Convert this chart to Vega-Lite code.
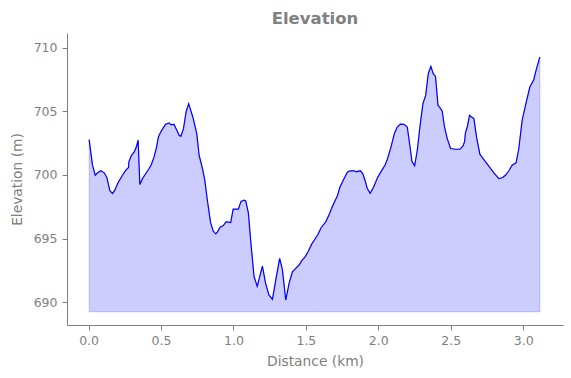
{
  "$schema": "https://vega.github.io/schema/vega-lite/v6.json",
  "autosize": "none",
  "width": 496,
  "height": 292,
  "padding": {"left": 67, "top": 33, "right": 9, "bottom": 53},
  "background": "white",
  "title": {"text": "Elevation", "font": "DejaVu Sans", "fontSize": 16.5, "fontWeight": "bold", "color": "gray", "anchor": "middle", "offset": 6},
  "config": {
    "view": {"stroke": null},
    "axis": {
      "grid": false,
      "domainColor": "gray",
      "tickColor": "gray",
      "labelColor": "gray",
      "titleColor": "gray",
      "labelFont": "DejaVu Sans",
      "titleFont": "DejaVu Sans",
      "labelFontSize": 12.5,
      "titleFontSize": 13.8,
      "titleFontWeight": "normal",
      "tickSize": 5,
      "domainWidth": 1,
      "tickWidth": 1
    }
  },
  "data": {"values": [
    {"d": 0.004, "e": 702.78},
    {"d": 0.027, "e": 700.77},
    {"d": 0.046, "e": 699.98},
    {"d": 0.062, "e": 700.17},
    {"d": 0.085, "e": 700.33},
    {"d": 0.108, "e": 700.17},
    {"d": 0.126, "e": 699.8},
    {"d": 0.147, "e": 698.76},
    {"d": 0.165, "e": 698.55},
    {"d": 0.181, "e": 698.81},
    {"d": 0.204, "e": 699.41},
    {"d": 0.234, "e": 699.98},
    {"d": 0.257, "e": 700.38},
    {"d": 0.276, "e": 700.59},
    {"d": 0.278, "e": 701.03},
    {"d": 0.296, "e": 701.55},
    {"d": 0.315, "e": 701.81},
    {"d": 0.328, "e": 702.15},
    {"d": 0.342, "e": 702.73},
    {"d": 0.354, "e": 699.25},
    {"d": 0.372, "e": 699.72},
    {"d": 0.395, "e": 700.12},
    {"d": 0.418, "e": 700.51},
    {"d": 0.434, "e": 700.85},
    {"d": 0.452, "e": 701.42},
    {"d": 0.468, "e": 702.13},
    {"d": 0.482, "e": 702.99},
    {"d": 0.498, "e": 703.38},
    {"d": 0.516, "e": 703.72},
    {"d": 0.532, "e": 703.98},
    {"d": 0.556, "e": 704.09},
    {"d": 0.567, "e": 703.96},
    {"d": 0.590, "e": 703.98},
    {"d": 0.609, "e": 703.51},
    {"d": 0.625, "e": 703.12},
    {"d": 0.637, "e": 703.04},
    {"d": 0.655, "e": 703.64},
    {"d": 0.673, "e": 704.95},
    {"d": 0.691, "e": 705.6},
    {"d": 0.721, "e": 704.5},
    {"d": 0.747, "e": 703.25},
    {"d": 0.763, "e": 701.55},
    {"d": 0.786, "e": 700.51},
    {"d": 0.802, "e": 699.62},
    {"d": 0.820, "e": 698.02},
    {"d": 0.842, "e": 696.28},
    {"d": 0.860, "e": 695.6},
    {"d": 0.878, "e": 695.38},
    {"d": 0.890, "e": 695.54},
    {"d": 0.908, "e": 695.9},
    {"d": 0.930, "e": 696.03},
    {"d": 0.950, "e": 696.33},
    {"d": 0.981, "e": 696.27},
    {"d": 0.998, "e": 697.32},
    {"d": 1.034, "e": 697.32},
    {"d": 1.052, "e": 697.93},
    {"d": 1.074, "e": 698.02},
    {"d": 1.085, "e": 697.97},
    {"d": 1.103, "e": 697.03},
    {"d": 1.121, "e": 694.6},
    {"d": 1.142, "e": 692.06},
    {"d": 1.164, "e": 691.25},
    {"d": 1.200, "e": 692.85},
    {"d": 1.222, "e": 691.49},
    {"d": 1.245, "e": 690.58},
    {"d": 1.269, "e": 690.23},
    {"d": 1.292, "e": 691.75},
    {"d": 1.319, "e": 693.45},
    {"d": 1.338, "e": 692.58},
    {"d": 1.361, "e": 690.18},
    {"d": 1.384, "e": 691.49},
    {"d": 1.407, "e": 692.4},
    {"d": 1.430, "e": 692.67},
    {"d": 1.453, "e": 692.93},
    {"d": 1.471, "e": 693.27},
    {"d": 1.492, "e": 693.53},
    {"d": 1.515, "e": 693.97},
    {"d": 1.540, "e": 694.57},
    {"d": 1.563, "e": 694.97},
    {"d": 1.583, "e": 695.33},
    {"d": 1.606, "e": 695.88},
    {"d": 1.637, "e": 696.32},
    {"d": 1.659, "e": 696.85},
    {"d": 1.682, "e": 697.5},
    {"d": 1.701, "e": 697.97},
    {"d": 1.717, "e": 698.34},
    {"d": 1.736, "e": 699.07},
    {"d": 1.758, "e": 699.59},
    {"d": 1.786, "e": 700.22},
    {"d": 1.804, "e": 700.33},
    {"d": 1.832, "e": 700.33},
    {"d": 1.850, "e": 700.25},
    {"d": 1.860, "e": 700.3},
    {"d": 1.878, "e": 700.33},
    {"d": 1.894, "e": 700.07},
    {"d": 1.908, "e": 699.59},
    {"d": 1.924, "e": 698.94},
    {"d": 1.944, "e": 698.57},
    {"d": 1.967, "e": 699.03},
    {"d": 1.995, "e": 699.8},
    {"d": 2.022, "e": 700.32},
    {"d": 2.047, "e": 700.78},
    {"d": 2.060, "e": 701.15},
    {"d": 2.073, "e": 701.64},
    {"d": 2.090, "e": 702.3},
    {"d": 2.112, "e": 703.3},
    {"d": 2.131, "e": 703.77},
    {"d": 2.152, "e": 704.0},
    {"d": 2.177, "e": 703.98},
    {"d": 2.200, "e": 703.77},
    {"d": 2.216, "e": 702.47},
    {"d": 2.232, "e": 701.08},
    {"d": 2.251, "e": 700.72},
    {"d": 2.269, "e": 701.94},
    {"d": 2.287, "e": 703.77},
    {"d": 2.308, "e": 705.6},
    {"d": 2.327, "e": 706.25},
    {"d": 2.345, "e": 707.95},
    {"d": 2.363, "e": 708.53},
    {"d": 2.379, "e": 707.95},
    {"d": 2.395, "e": 707.74},
    {"d": 2.412, "e": 705.47},
    {"d": 2.425, "e": 705.29},
    {"d": 2.441, "e": 705.03},
    {"d": 2.457, "e": 703.77},
    {"d": 2.476, "e": 702.86},
    {"d": 2.499, "e": 702.08},
    {"d": 2.533, "e": 702.02},
    {"d": 2.563, "e": 702.02},
    {"d": 2.584, "e": 702.26},
    {"d": 2.595, "e": 702.6},
    {"d": 2.602, "e": 703.33},
    {"d": 2.614, "e": 703.77},
    {"d": 2.630, "e": 704.69},
    {"d": 2.644, "e": 704.56},
    {"d": 2.660, "e": 704.43},
    {"d": 2.678, "e": 702.99},
    {"d": 2.701, "e": 701.63},
    {"d": 2.729, "e": 701.21},
    {"d": 2.763, "e": 700.69},
    {"d": 2.798, "e": 700.17},
    {"d": 2.832, "e": 699.72},
    {"d": 2.855, "e": 699.78},
    {"d": 2.878, "e": 699.98},
    {"d": 2.901, "e": 700.33},
    {"d": 2.924, "e": 700.77},
    {"d": 2.951, "e": 700.95},
    {"d": 2.970, "e": 702.08},
    {"d": 2.993, "e": 704.3},
    {"d": 3.016, "e": 705.47},
    {"d": 3.046, "e": 706.91},
    {"d": 3.073, "e": 707.48},
    {"d": 3.092, "e": 708.35},
    {"d": 3.115, "e": 709.26}
  ]},
  "encoding": {
    "x": {
      "field": "d", "type": "quantitative",
      "scale": {"domain": [-0.149, 3.275], "nice": false, "zero": false},
      "axis": {"title": "Distance (km)", "values": [0, 0.5, 1, 1.5, 2, 2.5, 3], "format": ".1f", "labelPadding": 4, "titlePadding": 8, "labelFlush": false}
    },
    "y": {
      "field": "e", "type": "quantitative",
      "scale": {"domain": [688.22, 711.15], "nice": false, "zero": false},
      "axis": {"title": "Elevation (m)", "values": [690, 695, 700, 705, 710], "format": "d", "labelPadding": 5, "titlePadding": 9}
    }
  },
  "layer": [
    {
      "mark": {"type": "area", "fill": "#0000ff", "fillOpacity": 0.2, "stroke": "#0000ff", "strokeOpacity": 0.2, "strokeWidth": 1},
      "encoding": {"y2": {"datum": 689.26}}
    },
    {
      "mark": {"type": "line", "color": "#0000ff", "strokeWidth": 1.2}
    }
  ]
}
